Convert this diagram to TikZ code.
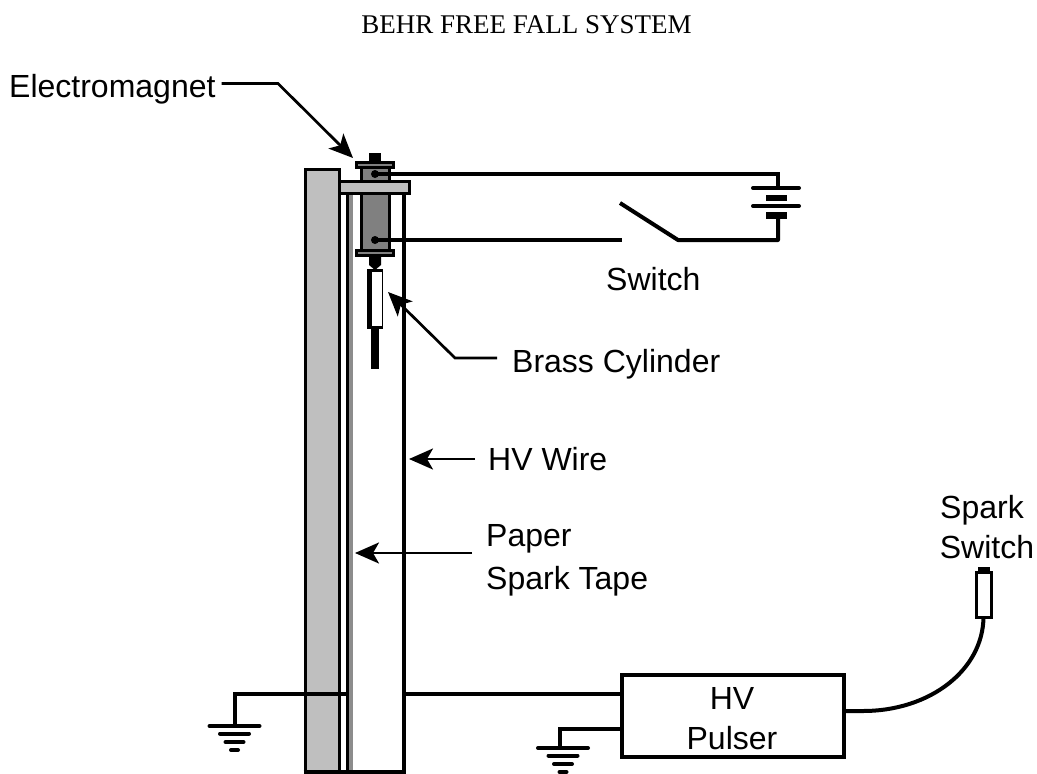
\documentclass[tikz,border=0pt]{standalone}
\usepackage{fontspec}
\setmainfont{Liberation Sans}
\newfontfamily\titlefont{Liberation Serif}
\usetikzlibrary{arrows.meta}
\tikzset{
  px/.style={x=1pt,y=-1pt},
  wire/.style={line width=4pt,line cap=butt,line join=miter},
  plate/.style={line width=4pt,line cap=round},
  pointer/.style={line width=2.7pt,-{Stealth[length=24pt,width=21pt,inset=6pt]}},
  part/.style={draw=black,line width=3pt,inner sep=0pt,outer sep=0pt,anchor=center},
  solid part/.style={fill=black,inner sep=0pt,outer sep=0pt,anchor=center},
  label/.style={font=\fontsize{32}{38}\selectfont,inner sep=0pt,anchor=base west},
  clabel/.style={font=\fontsize{32}{38}\selectfont,inner sep=0pt,anchor=base},
  dot/.style={circle,fill=black,minimum size=8pt,inner sep=0pt},
}
\newcommand{\ground}[3]{%
  \draw[plate] (#1-25,#2) -- (#1+25,#2);
  \draw[plate] (#1-14.5,#2+7.5) -- (#1+14.5,#2+7.5);
  \draw[plate] (#1-9,#2+16) -- (#1+9,#2+16);
  \draw[plate] (#1-3.5,#2+24) -- (#1+3.5,#2+24);
}
\begin{document}
\begin{tikzpicture}[px]
\useasboundingbox (0,0) rectangle (1037,774);
\node[font=\titlefont\fontsize{27}{32}\selectfont,inner sep=0pt,anchor=base] (title) at (526.5,33) {BEHR FREE FALL SYSTEM};

% column, tape and HV wire
\node[part,fill=black!25,minimum width=34pt,minimum height=603pt] (column) at (322,470.5) {};
\draw[line width=4.5pt,draw=black!45] (351,190) -- (351,771);
\draw[line width=3pt] (347,190) -- (347,771);
\draw[line width=4pt] (404,190) -- (404,773.5);
\draw[line width=4pt] (303.5,772) -- (405.5,772);

% electromagnet
\node[solid part,minimum width=12pt,minimum height=10pt] (knob) at (375,158) {};
\node[part,fill=black!50,minimum width=28pt,minimum height=16pt] (coilA) at (375,174) {};
\node[part,fill=black!50,minimum width=28pt,minimum height=58pt] (coilB) at (375,222) {};
\node[part,fill=black!25,minimum width=70pt,minimum height=12pt] (shelf) at (374.5,187.5) {};
\node[part,fill=black!50,minimum width=37pt,minimum height=5pt] (capA) at (375,164.5) {};
\node[part,fill=black!50,minimum width=37pt,minimum height=5pt] (capB) at (375,253) {};
\fill (369,256) -- (381,256) -- (381,265) -- (375,270) -- (369,265) -- cycle;
% brass cylinder
\node[solid part,minimum width=16pt,minimum height=60pt] (cyl) at (375,299) {};
\node[fill=white,inner sep=0pt,minimum width=10pt,minimum height=54pt] (cylin) at (376.5,299) {};
\node[solid part,minimum width=8pt,minimum height=40pt] (rod) at (375,349) {};
\node[dot] (d1) at (375,174) {};
\node[dot] (d2) at (375,240) {};

% circuit
\coordinate (swA) at (622,240);
\coordinate (swB) at (678,240);
\coordinate (swC) at (620,203);
\coordinate (batT) at (778,188);
\coordinate (batB) at (778,218);
\draw[wire] (d1.center) -- (778,174) -- (batT);
\draw[wire] (d2.center) -- (swA);
\draw[wire,line join=round] (swC) -- (swB) -- (778,240) -- (batB);
\draw[plate] (753,188) -- (799,188);
\draw[plate] (753,206) -- (799,206);
\fill (766,195) rectangle (787,200.5);
\fill (766,212) rectangle (787,218.5);

% left ground
\coordinate (g1) at (234.5,726);
\coordinate (g1j) at (347,693.5);
\draw[wire] (g1j) -- (234.5,693.5) -- (g1);
\ground{234.5}{726}{}

% pulser
\node[draw,line width=4pt,minimum width=222pt,minimum height=82pt,inner sep=0pt,outer sep=0pt,align=center] (pulser) at (732.5,716) {};
\node[clabel] (hvt) at (732,709) {HV};
\node[clabel] (pt) at (732,749) {Pulser};
\draw[wire] (404,693.5) -- (pulser.west |- 0,693.5);
\coordinate (g2) at (560,748);
\draw[wire] (pulser.west |- 0,729) -- (560,729) -- (g2);
\ground{563}{748}{}

% spark switch
\node[draw,line width=3pt,minimum width=15pt,minimum height=45pt,inner sep=0pt,outer sep=0pt,fill=white] (spark) at (983.5,594.5) {};
\node[solid part,minimum width=12pt,minimum height=4pt] (sparkcap) at (983.5,569) {};
\draw[wire] (pulser.east |- 0,711) -- (863,711) .. controls (930,711) and (983,670) .. (spark.south);

% pointers and labels
\node[label] (lem) at (9,97) {Electromagnet};
\coordinate (tem) at (353,158);
\draw[pointer] (lem.east |- 0,83.5) ++(6,0) -- (278,83.5) -- (tem);
\node[label] (lsw) at (606,290) {Switch};
\node[label] (lbc) at (512,372) {Brass Cylinder};
\coordinate (tbc) at (388,292);
\draw[pointer] (lbc.west |- 0,358) ++(-15,0) -- (455,358) -- (tbc);
\node[label] (lhv) at (488,470) {HV Wire};
\coordinate (thv) at (409,459);
\draw[pointer] (475,459) -- (thv);
\node[label] (lp1) at (486,546) {Paper};
\node[label] (lp2) at (486,589) {Spark Tape};
\coordinate (tp) at (355,553);
\draw[pointer] (472,553) -- (tp);
\node[clabel] (ls1) at (982,518) {Spark};
\node[clabel] (ls2) at (987,558) {Switch};
\end{tikzpicture}
\end{document}
